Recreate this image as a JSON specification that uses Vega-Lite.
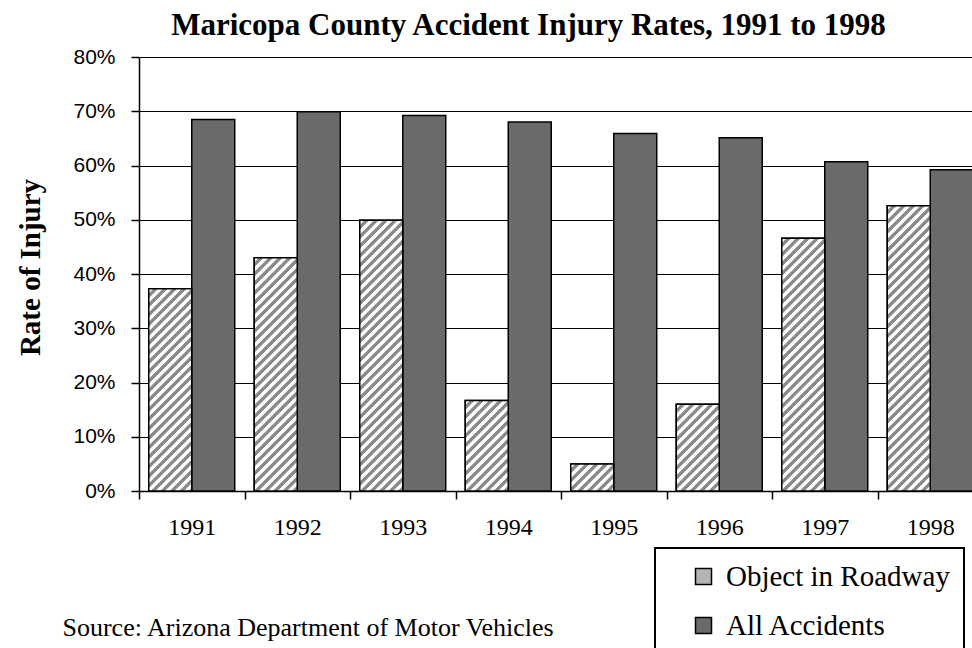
{
"$schema": "https://vega.github.io/schema/vega-lite/v6.json",
"width": 833, "height": 434,
"autosize": {"type": "none"},
"padding": {"left": 139, "top": 57, "right": 0, "bottom": 157},
"background": "white",
"params": [{"name": "hatch", "value": [
{"offset":0.001,"color":"#fff"},{"offset":0.009,"color":"#fff"},{"offset":0.011,"color":"#8a8a8a"},{"offset":0.019,"color":"#8a8a8a"},
{"offset":0.021,"color":"#fff"},{"offset":0.029,"color":"#fff"},{"offset":0.031,"color":"#8a8a8a"},{"offset":0.039,"color":"#8a8a8a"},
{"offset":0.041,"color":"#fff"},{"offset":0.049,"color":"#fff"},{"offset":0.051,"color":"#8a8a8a"},{"offset":0.059,"color":"#8a8a8a"},
{"offset":0.061,"color":"#fff"},{"offset":0.069,"color":"#fff"},{"offset":0.071,"color":"#8a8a8a"},{"offset":0.079,"color":"#8a8a8a"},
{"offset":0.081,"color":"#fff"},{"offset":0.089,"color":"#fff"},{"offset":0.091,"color":"#8a8a8a"},{"offset":0.099,"color":"#8a8a8a"},
{"offset":0.101,"color":"#fff"},{"offset":0.109,"color":"#fff"},{"offset":0.111,"color":"#8a8a8a"},{"offset":0.119,"color":"#8a8a8a"},
{"offset":0.121,"color":"#fff"},{"offset":0.129,"color":"#fff"},{"offset":0.131,"color":"#8a8a8a"},{"offset":0.139,"color":"#8a8a8a"},
{"offset":0.141,"color":"#fff"},{"offset":0.149,"color":"#fff"},{"offset":0.151,"color":"#8a8a8a"},{"offset":0.159,"color":"#8a8a8a"},
{"offset":0.161,"color":"#fff"},{"offset":0.169,"color":"#fff"},{"offset":0.171,"color":"#8a8a8a"},{"offset":0.179,"color":"#8a8a8a"},
{"offset":0.181,"color":"#fff"},{"offset":0.189,"color":"#fff"},{"offset":0.191,"color":"#8a8a8a"},{"offset":0.199,"color":"#8a8a8a"},
{"offset":0.201,"color":"#fff"},{"offset":0.209,"color":"#fff"},{"offset":0.211,"color":"#8a8a8a"},{"offset":0.219,"color":"#8a8a8a"},
{"offset":0.221,"color":"#fff"},{"offset":0.229,"color":"#fff"},{"offset":0.231,"color":"#8a8a8a"},{"offset":0.239,"color":"#8a8a8a"},
{"offset":0.241,"color":"#fff"},{"offset":0.249,"color":"#fff"},{"offset":0.251,"color":"#8a8a8a"},{"offset":0.259,"color":"#8a8a8a"},
{"offset":0.261,"color":"#fff"},{"offset":0.269,"color":"#fff"},{"offset":0.271,"color":"#8a8a8a"},{"offset":0.279,"color":"#8a8a8a"},
{"offset":0.281,"color":"#fff"},{"offset":0.289,"color":"#fff"},{"offset":0.291,"color":"#8a8a8a"},{"offset":0.299,"color":"#8a8a8a"},
{"offset":0.301,"color":"#fff"},{"offset":0.309,"color":"#fff"},{"offset":0.311,"color":"#8a8a8a"},{"offset":0.319,"color":"#8a8a8a"},
{"offset":0.321,"color":"#fff"},{"offset":0.329,"color":"#fff"},{"offset":0.331,"color":"#8a8a8a"},{"offset":0.339,"color":"#8a8a8a"},
{"offset":0.341,"color":"#fff"},{"offset":0.349,"color":"#fff"},{"offset":0.351,"color":"#8a8a8a"},{"offset":0.359,"color":"#8a8a8a"},
{"offset":0.361,"color":"#fff"},{"offset":0.369,"color":"#fff"},{"offset":0.371,"color":"#8a8a8a"},{"offset":0.379,"color":"#8a8a8a"},
{"offset":0.381,"color":"#fff"},{"offset":0.389,"color":"#fff"},{"offset":0.391,"color":"#8a8a8a"},{"offset":0.399,"color":"#8a8a8a"},
{"offset":0.401,"color":"#fff"},{"offset":0.409,"color":"#fff"},{"offset":0.411,"color":"#8a8a8a"},{"offset":0.419,"color":"#8a8a8a"},
{"offset":0.421,"color":"#fff"},{"offset":0.429,"color":"#fff"},{"offset":0.431,"color":"#8a8a8a"},{"offset":0.439,"color":"#8a8a8a"},
{"offset":0.441,"color":"#fff"},{"offset":0.449,"color":"#fff"},{"offset":0.451,"color":"#8a8a8a"},{"offset":0.459,"color":"#8a8a8a"},
{"offset":0.461,"color":"#fff"},{"offset":0.469,"color":"#fff"},{"offset":0.471,"color":"#8a8a8a"},{"offset":0.479,"color":"#8a8a8a"},
{"offset":0.481,"color":"#fff"},{"offset":0.489,"color":"#fff"},{"offset":0.491,"color":"#8a8a8a"},{"offset":0.499,"color":"#8a8a8a"},
{"offset":0.501,"color":"#fff"},{"offset":0.509,"color":"#fff"},{"offset":0.511,"color":"#8a8a8a"},{"offset":0.519,"color":"#8a8a8a"},
{"offset":0.521,"color":"#fff"},{"offset":0.529,"color":"#fff"},{"offset":0.531,"color":"#8a8a8a"},{"offset":0.539,"color":"#8a8a8a"},
{"offset":0.541,"color":"#fff"},{"offset":0.549,"color":"#fff"},{"offset":0.551,"color":"#8a8a8a"},{"offset":0.559,"color":"#8a8a8a"},
{"offset":0.561,"color":"#fff"},{"offset":0.569,"color":"#fff"},{"offset":0.571,"color":"#8a8a8a"},{"offset":0.579,"color":"#8a8a8a"},
{"offset":0.581,"color":"#fff"},{"offset":0.589,"color":"#fff"},{"offset":0.591,"color":"#8a8a8a"},{"offset":0.599,"color":"#8a8a8a"},
{"offset":0.601,"color":"#fff"},{"offset":0.609,"color":"#fff"},{"offset":0.611,"color":"#8a8a8a"},{"offset":0.619,"color":"#8a8a8a"},
{"offset":0.621,"color":"#fff"},{"offset":0.629,"color":"#fff"},{"offset":0.631,"color":"#8a8a8a"},{"offset":0.639,"color":"#8a8a8a"},
{"offset":0.641,"color":"#fff"},{"offset":0.649,"color":"#fff"},{"offset":0.651,"color":"#8a8a8a"},{"offset":0.659,"color":"#8a8a8a"},
{"offset":0.661,"color":"#fff"},{"offset":0.669,"color":"#fff"},{"offset":0.671,"color":"#8a8a8a"},{"offset":0.679,"color":"#8a8a8a"},
{"offset":0.681,"color":"#fff"},{"offset":0.689,"color":"#fff"},{"offset":0.691,"color":"#8a8a8a"},{"offset":0.699,"color":"#8a8a8a"},
{"offset":0.701,"color":"#fff"},{"offset":0.709,"color":"#fff"},{"offset":0.711,"color":"#8a8a8a"},{"offset":0.719,"color":"#8a8a8a"},
{"offset":0.721,"color":"#fff"},{"offset":0.729,"color":"#fff"},{"offset":0.731,"color":"#8a8a8a"},{"offset":0.739,"color":"#8a8a8a"},
{"offset":0.741,"color":"#fff"},{"offset":0.749,"color":"#fff"},{"offset":0.751,"color":"#8a8a8a"},{"offset":0.759,"color":"#8a8a8a"},
{"offset":0.761,"color":"#fff"},{"offset":0.769,"color":"#fff"},{"offset":0.771,"color":"#8a8a8a"},{"offset":0.779,"color":"#8a8a8a"},
{"offset":0.781,"color":"#fff"},{"offset":0.789,"color":"#fff"},{"offset":0.791,"color":"#8a8a8a"},{"offset":0.799,"color":"#8a8a8a"},
{"offset":0.801,"color":"#fff"},{"offset":0.809,"color":"#fff"},{"offset":0.811,"color":"#8a8a8a"},{"offset":0.819,"color":"#8a8a8a"},
{"offset":0.821,"color":"#fff"},{"offset":0.829,"color":"#fff"},{"offset":0.831,"color":"#8a8a8a"},{"offset":0.839,"color":"#8a8a8a"},
{"offset":0.841,"color":"#fff"},{"offset":0.849,"color":"#fff"},{"offset":0.851,"color":"#8a8a8a"},{"offset":0.859,"color":"#8a8a8a"},
{"offset":0.861,"color":"#fff"},{"offset":0.869,"color":"#fff"},{"offset":0.871,"color":"#8a8a8a"},{"offset":0.879,"color":"#8a8a8a"},
{"offset":0.881,"color":"#fff"},{"offset":0.889,"color":"#fff"},{"offset":0.891,"color":"#8a8a8a"},{"offset":0.899,"color":"#8a8a8a"},
{"offset":0.901,"color":"#fff"},{"offset":0.909,"color":"#fff"},{"offset":0.911,"color":"#8a8a8a"},{"offset":0.919,"color":"#8a8a8a"},
{"offset":0.921,"color":"#fff"},{"offset":0.929,"color":"#fff"},{"offset":0.931,"color":"#8a8a8a"},{"offset":0.939,"color":"#8a8a8a"},
{"offset":0.941,"color":"#fff"},{"offset":0.949,"color":"#fff"},{"offset":0.951,"color":"#8a8a8a"},{"offset":0.959,"color":"#8a8a8a"},
{"offset":0.961,"color":"#fff"},{"offset":0.969,"color":"#fff"},{"offset":0.971,"color":"#8a8a8a"},{"offset":0.979,"color":"#8a8a8a"},
{"offset":0.981,"color":"#fff"},{"offset":0.989,"color":"#fff"},{"offset":0.991,"color":"#8a8a8a"},{"offset":0.999,"color":"#8a8a8a"}
]}],
"title": {"text": "Maricopa County Accident Injury Rates, 1991 to 1998", "font": "Liberation Serif", "fontSize": 31, "fontWeight": "bold", "color": "black", "anchor": "middle", "frame": "group", "dx": -27, "offset": 4},
"data": {"values": [
{"year": "1991", "series": "Object in Roadway", "value": 0.373},
{"year": "1991", "series": "All Accidents", "value": 0.685},
{"year": "1992", "series": "Object in Roadway", "value": 0.430},
{"year": "1992", "series": "All Accidents", "value": 0.699},
{"year": "1993", "series": "Object in Roadway", "value": 0.499},
{"year": "1993", "series": "All Accidents", "value": 0.692},
{"year": "1994", "series": "Object in Roadway", "value": 0.167},
{"year": "1994", "series": "All Accidents", "value": 0.680},
{"year": "1995", "series": "Object in Roadway", "value": 0.050},
{"year": "1995", "series": "All Accidents", "value": 0.659},
{"year": "1996", "series": "Object in Roadway", "value": 0.160},
{"year": "1996", "series": "All Accidents", "value": 0.651},
{"year": "1997", "series": "Object in Roadway", "value": 0.466},
{"year": "1997", "series": "All Accidents", "value": 0.607},
{"year": "1998", "series": "Object in Roadway", "value": 0.526},
{"year": "1998", "series": "All Accidents", "value": 0.592}
]},
"encoding": {
  "x": {"field": "year", "type": "nominal",
    "scale": {"range": [0, 844], "paddingInner": 0, "paddingOuter": 0},
    "axis": {"tickBand": "extent", "tickSize": 8, "tickColor": "black", "tickWidth": 1.5, "domainColor": "black", "domainWidth": 1.5, "labelFont": "Liberation Serif", "labelFontSize": 24, "labelColor": "black", "labelPadding": 16, "labelAngle": 0, "grid": false,
      "title": "Source: Arizona Department of Motor Vehicles", "titleFont": "Liberation Serif", "titleFontSize": 26, "titleFontWeight": "normal", "titleColor": "black", "titleX": -77, "titleY": 144, "titleAlign": "left", "titleBaseline": "alphabetic", "titleAnchor": "start"}},
  "xOffset": {"field": "series", "type": "nominal", "sort": ["Object in Roadway", "All Accidents"], "scale": {"paddingInner": 0, "paddingOuter": 0.227}},
  "y": {"field": "value", "type": "quantitative",
    "scale": {"domain": [0, 0.8], "nice": false},
    "axis": {"values": [0, 0.1, 0.2, 0.3, 0.4, 0.5, 0.6, 0.7, 0.8], "format": ".0%", "tickSize": 8, "tickColor": "black", "tickWidth": 1.5, "domainColor": "black", "domainWidth": 1.5, "grid": true, "gridColor": "black", "gridWidth": 1.2, "gridOpacity": 1, "labelFont": "Liberation Sans", "labelFontSize": 21, "labelColor": "black", "labelPadding": 16,
      "title": "Rate of Injury", "titleFont": "Liberation Serif", "titleFontSize": 29, "titleFontWeight": "bold", "titleColor": "black", "titleAngle": 270, "titleX": -100, "titleY": 210, "titleAlign": "center", "titleBaseline": "alphabetic"}}
},
"layer": [
  {"mark": {"type": "bar", "stroke": "black", "strokeWidth": 1.5},
   "encoding": {"fill": {"field": "series", "type": "nominal",
     "scale": {"domain": ["Object in Roadway", "All Accidents"], "range": ["#b4b4b4", "#6a6a6a"]},
     "legend": {"title": null, "orient": "none", "legendX": 516, "legendY": 491, "strokeColor": "black", "fillColor": "white", "padding": 14, "symbolOffset": 20, "symbolType": "square", "symbolSize": 256, "symbolStrokeColor": "black", "symbolStrokeWidth": 1.5, "labelFont": "Liberation Serif", "labelFontSize": 29, "labelColor": "black", "labelOffset": 8, "rowPadding": 19, "labelLimit": 500}}}},
  {"transform": [{"filter": "datum.series == 'Object in Roadway'"}],
   "mark": {"type": "bar", "stroke": "black", "strokeWidth": 1.5,
     "fill": {"expr": "{gradient: 'linear', x1: 0, y1: 0, x2: bandwidth('xOffset') * 475 / (pow(bandwidth('xOffset'), 2) + pow(scale('y', 0) - scale('y', datum.value), 2)), y2: (scale('y', 0) - scale('y', datum.value)) * 475 / (pow(bandwidth('xOffset'), 2) + pow(scale('y', 0) - scale('y', datum.value), 2)), stops: hatch}"}}}
],
"config": {"view": {"stroke": null}, "legend": {"strokeWidth": 2}}
}
